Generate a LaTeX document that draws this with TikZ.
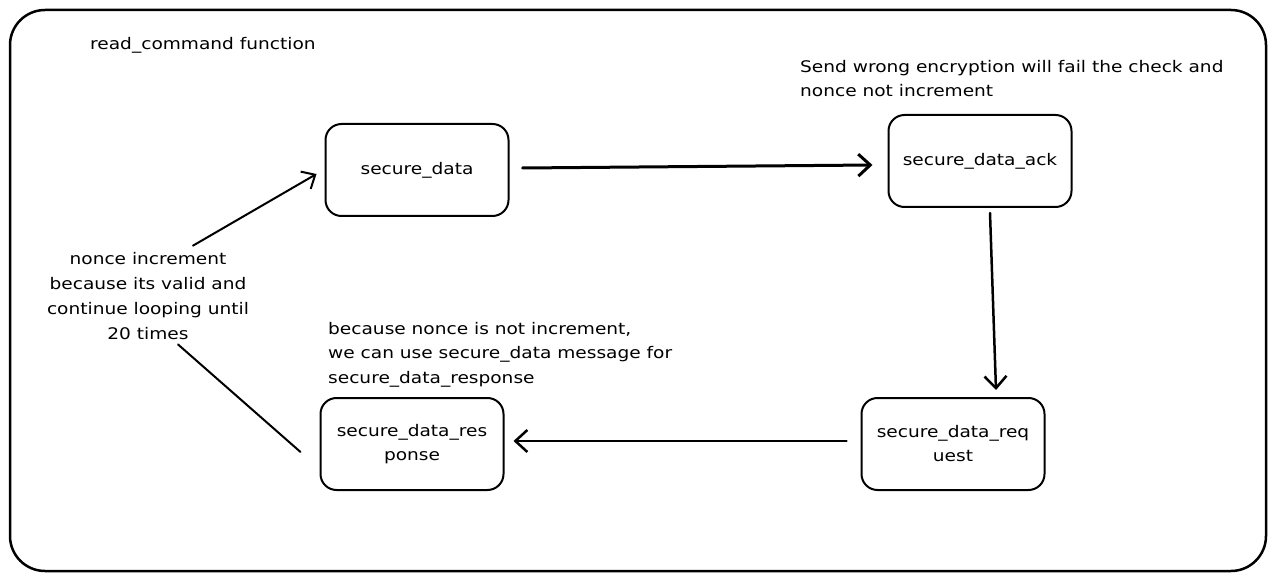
\documentclass[tikz,border=0pt]{standalone}
\usepackage{fontspec}
\setmainfont[FakeStretch=1.16]{DejaVu Sans}
\usetikzlibrary{arrows.meta}
\begin{document}
\begin{tikzpicture}[x=1pt,y=-1pt,
  box/.style={draw, line width=2pt, rounded corners=16pt, minimum width=183pt, minimum height=92pt, align=center, font=\fontsize{16}{24}\selectfont, inner sep=0pt},
  txt/.style={font=\fontsize{16}{24.5}\selectfont, inner sep=0pt},
  arr/.style={line width=2.5pt, line cap=round, -{Straight Barb[length=12pt,width=22pt]}},
  thinarr/.style={line width=2pt, line cap=round, -{Straight Barb[length=11pt,width=20pt]}}
]
\useasboundingbox (0,0) rectangle (1275,580);
\draw[line width=2.5pt, rounded corners=35pt] (10,10) rectangle (1266,571);

\node[box] (sd) at (417,170) {secure\_data};
\node[box] (ack) at (980,161) {secure\_data\_ack};
\node[box] (req) at (953,444) {secure\_data\_req\\uest};
\node[box] (resp) at (412,444) {secure\_data\_res\\ponse};

\node[txt, anchor=base west] (title) at (90,50) {read\_command function};
\node[txt, align=left, anchor=base west] (note1) at (800,97) {Send wrong encryption will fail the check and\\nonce not increment};
\node[txt, align=left, anchor=base west] (note2) at (328,383) {because nonce is not increment,\\we can use secure\_data message for\\secure\_data\_response};
\node[txt, align=center, anchor=base, font=\fontsize{16}{25}\selectfont] (lbl) at (148,339) {nonce increment\\because its valid and\\continue looping until\\20 times};

\draw[arr, line width=3pt] ([xshift=13pt,yshift=2pt]sd.east) -- ([xshift=-15pt,yshift=-4pt]ack.west);
\draw[arr] ([xshift=10pt,yshift=-5pt]ack.south) -- ([xshift=43pt,yshift=7pt]req.north);
\draw[arr] ([xshift=-14pt,yshift=3pt]req.west) -- ([xshift=9pt,yshift=3pt]resp.east);
\draw[line width=2pt, line cap=round] ([xshift=-19pt,yshift=-8pt]resp.west) -- ([xshift=30pt,yshift=-5pt]lbl.south);
\draw[thinarr] ([xshift=45pt,yshift=6pt]lbl.north) -- ([xshift=-8pt,yshift=-4pt]sd.west);
\end{tikzpicture}
\end{document}
